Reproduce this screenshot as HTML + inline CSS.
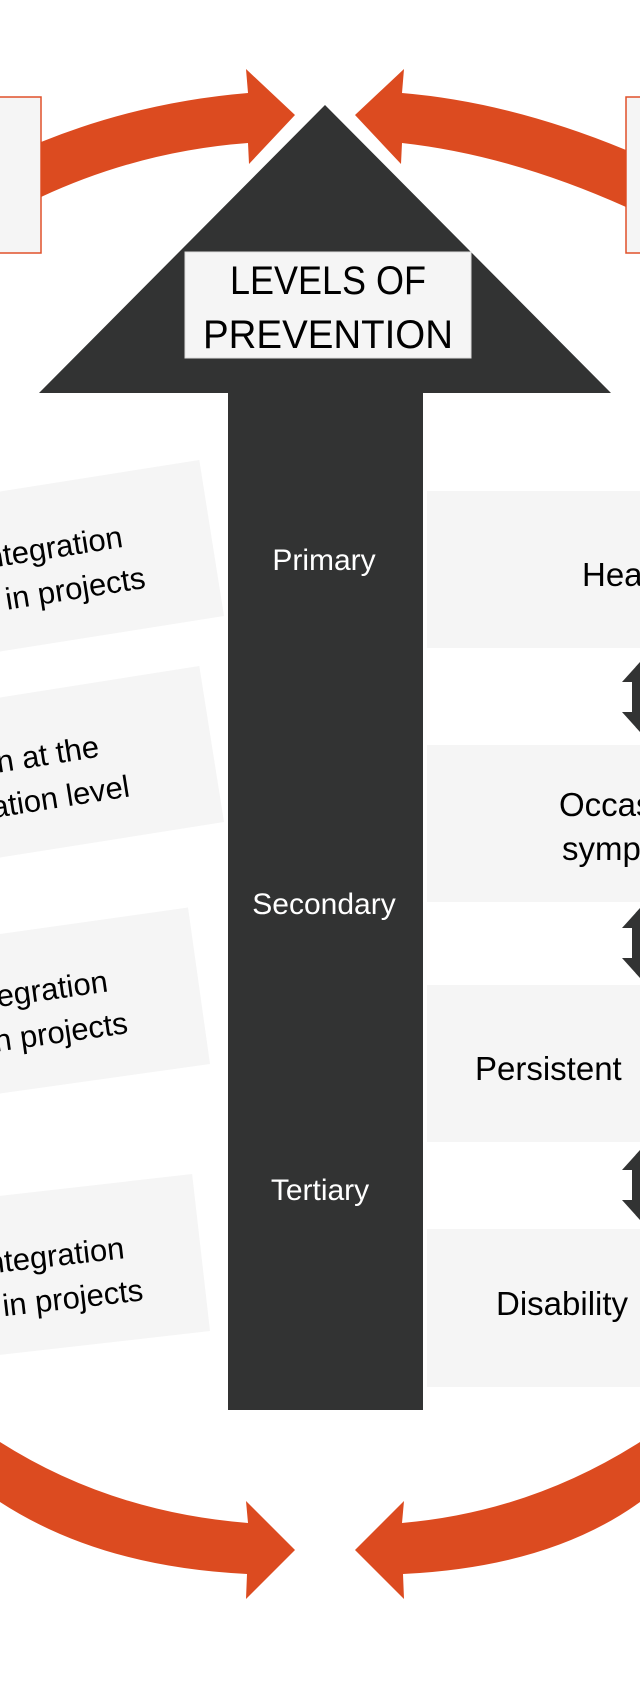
<!DOCTYPE html>
<html><head><meta charset="utf-8"><style>
html,body{margin:0;padding:0;background:#fff;}
svg{display:block}
text{font-family:"Liberation Sans",sans-serif;}
</style></head><body>
<svg width="640" height="1690" viewBox="0 0 640 1690" xmlns="http://www.w3.org/2000/svg">
<rect x="-5" y="97" width="46" height="156" fill="#f5f5f5" stroke="#e0502a" stroke-width="1.5"/>
<rect x="626" y="97" width="20" height="156" fill="#f5f5f5" stroke="#e0502a" stroke-width="1.5"/>
<path d="M41,142 Q140,102 248,93 L246,69 L295,115 L249,164 L248,143 Q140,151 41,197 Z" fill="#dc4b20"/>
<path d="M626,150 Q510,102 402,93 L404,69 L355,115 L401,164 L402,143 Q510,155 626,207 Z" fill="#dc4b20"/>
<g transform="translate(0,-8)">
<path d="M0,1450 Q110,1520 248,1531 L246,1509 L295,1558 L246,1607 L247,1582 Q100,1575 0,1510 Z" fill="#dc4b20"/>
<path d="M640,1450 Q530,1520 402,1531 L404,1509 L355,1558 L404,1607 L403,1582 Q550,1575 640,1510 Z" fill="#dc4b20"/>
</g>
<path d="M325,105 L611,393 L423,393 L423,1410 L228,1410 L228,393 L39,393 Z" fill="#323333"/>
<rect x="185" y="252" width="286" height="106" fill="#f5f5f5" stroke="#ddd"/>
<text x="328" y="294" font-size="40" text-anchor="middle" textLength="196" lengthAdjust="spacingAndGlyphs">LEVELS OF</text>
<text x="328" y="348" font-size="40" text-anchor="middle" textLength="250" lengthAdjust="spacingAndGlyphs">PREVENTION</text>
<text x="324" y="570" font-size="30" fill="#fff" text-anchor="middle">Primary</text>
<text x="324" y="914" font-size="30" fill="#fff" text-anchor="middle">Secondary</text>
<text x="320" y="1200" font-size="30" fill="#fff" text-anchor="middle">Tertiary</text>
<g transform="translate(224,616) rotate(-9)">
  <rect x="-300" y="-158" width="300" height="158" fill="#f5f5f5"/>
  <text x="-88" y="-84" font-size="31" text-anchor="end">Integration</text>
  <text x="-72" y="-40" font-size="31" text-anchor="end">in projects</text>
</g>
<g transform="translate(224,822) rotate(-9)">
  <rect x="-300" y="-158" width="300" height="158" fill="#f5f5f5"/>
  <text x="-112" y="-84" font-size="31" text-anchor="end">Action at the</text>
  <text x="-88" y="-40" font-size="31" text-anchor="end">population level</text>
</g>
<g transform="translate(210,1064) rotate(-8)">
  <rect x="-300" y="-158" width="300" height="158" fill="#f5f5f5"/>
  <text x="-90" y="-86" font-size="31" text-anchor="end">Integration</text>
  <text x="-76" y="-42" font-size="31" text-anchor="end">in projects</text>
</g>
<g transform="translate(210,1331) rotate(-6.5)">
  <rect x="-300" y="-158" width="300" height="158" fill="#f5f5f5"/>
  <text x="-76" y="-82" font-size="31" text-anchor="end">Integration</text>
  <text x="-62" y="-38" font-size="31" text-anchor="end">in projects</text>
</g>
<rect x="427" y="491" width="220" height="157" fill="#f5f5f5"/>
<text x="582" y="586" font-size="33">Health</text>
<rect x="427" y="745" width="220" height="157" fill="#f5f5f5"/>
<text x="559" y="816" font-size="33">Occasional</text>
<text x="562" y="860" font-size="33">symptoms</text>
<rect x="427" y="985" width="220" height="157" fill="#f5f5f5"/>
<text x="475" y="1080" font-size="33">Persistent</text>
<rect x="427" y="1229" width="220" height="158" fill="#f5f5f5"/>
<text x="496" y="1315" font-size="33">Disability</text>
<path d="M640,662 L622,682 L632,682 L632,712 L622,712 L640,732 L660,732 L660,662 Z" fill="#323333"/>
<path d="M640,908 L622,928 L632,928 L632,958 L622,958 L640,978 L660,978 L660,908 Z" fill="#323333"/>
<path d="M640,1150 L622,1170 L632,1170 L632,1200 L622,1200 L640,1220 L660,1220 L660,1150 Z" fill="#323333"/>
</svg>
</body></html>
